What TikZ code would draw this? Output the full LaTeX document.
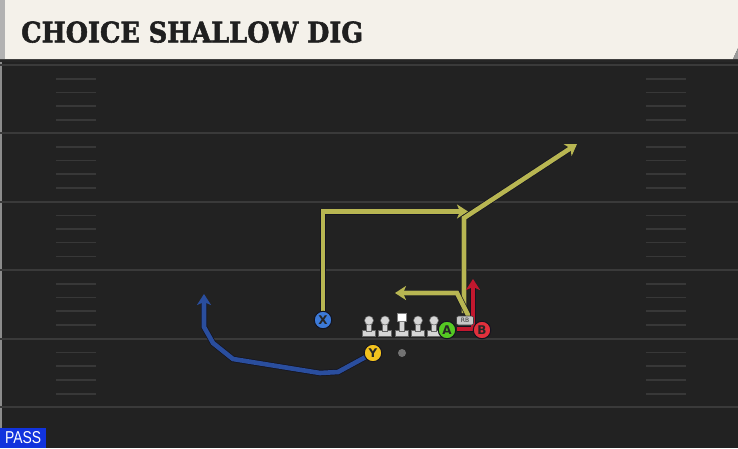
\documentclass[tikz,border=0pt]{standalone}
\usepackage{fontspec}
\usetikzlibrary{arrows.meta}
\newfontfamily\titlefont{DejaVu Serif}[FakeBold=2]
\newfontfamily\plyfont{DejaVu Sans}
\newfontfamily\tagfont{Liberation Sans}
\definecolor{field}{HTML}{222222}
\definecolor{yardc}{HTML}{3A3A3A}
\definecolor{hashc}{HTML}{383838}
\definecolor{cream}{HTML}{F4F1EA}
\definecolor{routey}{HTML}{B8B652}
\definecolor{routeb}{HTML}{2A4E9E}
\definecolor{router}{HTML}{C2182E}
\definecolor{outl}{HTML}{141420}
\definecolor{pX}{HTML}{3C7AD8}
\definecolor{pY}{HTML}{F2C21E}
\definecolor{pA}{HTML}{55C823}
\definecolor{pB}{HTML}{E2303C}
\definecolor{passblue}{HTML}{1133DD}
\definecolor{linem}{HTML}{D6D6D6}
\tikzset{
  yard/.style={draw=yardc, line width=2pt},
  hashm/.style={draw=hashc, line width=1.6pt},
  player/.style={circle, draw=outl, line width=1pt, minimum size=17.5pt, inner sep=0pt,
     font=\plyfont\bfseries\fontsize{12}{12}\selectfont, text=black!85},
  routeline/.style={draw=#1, line width=4.6pt, line join=miter,
     -{Stealth[length=11pt,width=14pt,inset=3pt]},
     preaction={draw=outl, line width=6pt, arrows=-, shorten >=9pt}},
  lineman/.style={fill=linem, draw=black!60, line width=0.5pt},
}
\begin{document}
\begin{tikzpicture}[x=1pt,y=-1pt]
\useasboundingbox (0,0) rectangle (738,448);
\fill[field] (0,0) rectangle (738,448);
\fill[black!45] (0,59) rectangle (2,448);
% yard lines
\foreach \yy in {65,133,201.5,270,338.5,407} {
  \draw[yard] (0,\yy) -- (738,\yy);
}
% hash marks
\foreach \yy in {65,133,201.5,270,338.5} {
  \foreach \dd in {14,27.5,41,55} {
    \draw[hashm] (56,\yy+\dd) -- (96,\yy+\dd);
    \draw[hashm] (646,\yy+\dd) -- (686,\yy+\dd);
  }
}
\draw[hashm] (56,380) -- (96,380);
\draw[hashm] (56,394) -- (96,394);
\draw[hashm] (646,380) -- (686,380);
\draw[hashm] (646,394) -- (686,394);
% header
\fill[black!85] (0,59) rectangle (738,62);
\fill[cream] (0,0) -- (738,0) -- (738,48) -- (733,59) -- (0,59) -- cycle;
\fill[black!40] (738,48) -- (738,59) -- (733,59) -- cycle;
\fill[black!30] (0,0) rectangle (5,59);
\node[anchor=south west, inner sep=0pt, text=black!88] (title) at (21,43)
  {\resizebox{342pt}{21pt}{\titlefont\bfseries CHOICE SHALLOW DIG}};
% pass tag
\node[fill=passblue, anchor=south west, inner sep=0pt, minimum width=46pt, minimum height=20pt,
  text=white] (pass) at (0,448) {\resizebox{36pt}{12pt}{\tagfont PASS}};
% players (positions)
\coordinate (Xp) at (323,320);
\coordinate (Yp) at (373,353);
\coordinate (Ap) at (447,330);
\coordinate (Bp) at (482,330);
% route waypoints
\coordinate (x1) at (323,211.5);
\coordinate (x2) at (468,211.5);
\coordinate (d0) at (464,313);
\coordinate (d1) at (464,218);
\coordinate (d2) at (577,144);
\coordinate (s0) at (469,317);
\coordinate (s1) at (457,293);
\coordinate (s2) at (395,293);
\coordinate (r0) at (457,329);
\coordinate (r1) at (473,329);
\coordinate (r2) at (473,279);
\coordinate (b1) at (338,372);
\coordinate (b2) at (320,373);
\coordinate (b3) at (233,359);
\coordinate (b4) at (213,343);
\coordinate (b5) at (204,327);
\coordinate (b6) at (204,294);
% routes
\draw[routeline=routeb] (Yp) -- (b1) -- (b2) -- (b3) -- (b4) -- (b5) -- (b6);
\draw[routeline=routey] (Xp) -- (x1) -- (x2);
\draw[routeline=routey] (d0) -- (d1) -- (d2);
\draw[routeline=routey] (s0) -- (s1) -- (s2);
\draw[routeline=router] (r0) -- (r1) -- (r2);
% linemen
\foreach \lx/\nm in {369/lt, 385/lg, 418/rg, 434/rt} {
  \fill[lineman] (\lx-6.5,330) rectangle (\lx+6.5,336);
  \fill[lineman] (\lx-2.5,322) rectangle (\lx+2.5,331);
  \filldraw[lineman] (\lx,320.5) circle (4.5pt);
  \coordinate (\nm) at (\lx,328);
}
\fill[lineman] (395.5,330) rectangle (408.5,336);
\fill[lineman] (399.5,321) rectangle (404.5,331);
\filldraw[fill=white, draw=black!50, line width=0.5pt] (397.5,313) rectangle (406.5,321.5);
\coordinate (ctr) at (402,325);
% football dot
\node[circle, fill=black!55, minimum size=8pt, inner sep=0pt] (ball) at (402,353) {};
% RB tag
\node[rounded corners=2pt, fill=black!22, draw=black!75, line width=0.6pt, minimum width=17pt,
  minimum height=9pt, inner sep=0pt, font=\plyfont\fontsize{6}{6}\selectfont, text=black!80]
  (rb) at (465,320.5) {RB};
% player circles
\node[player, fill=pX] (X) at (Xp) {X};
\node[player, fill=pY] (Y) at (Yp) {Y};
\node[player, fill=pA] (A) at (Ap) {A};
\node[player, fill=pB] (B) at (Bp) {B};
\end{tikzpicture}
\end{document}
